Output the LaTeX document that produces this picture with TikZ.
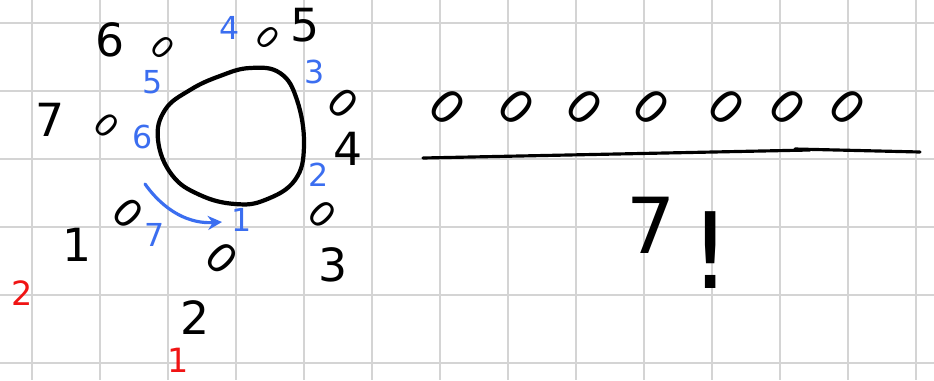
\documentclass[tikz,border=0pt]{standalone}
\usepackage{fontspec}
\setmainfont{DejaVu Sans}
\usetikzlibrary{arrows.meta}
\definecolor{penblue}{RGB}{59,110,240}
\definecolor{penred}{RGB}{240,20,20}
\definecolor{gridgray}{RGB}{212,212,212}
\begin{document}
\begin{tikzpicture}[
    x=0.02cm, y=-0.02cm,
    gridline/.style={draw=gridgray, line width=1.1pt},
    ink/.style={line width=2.2pt, line cap=round, line join=round},
    outer/.style={inner sep=0pt, font=\fontsize{26}{26}\selectfont},
    inner/.style={inner sep=0pt, text=penblue, font=\fontsize{18}{18}\selectfont},
    redno/.style={inner sep=0pt, text=penred, font=\fontsize{19}{19}\selectfont},
    slot/.style={inner sep=0pt, rotate=-45, font=\fontsize{26}{26}\selectfont}
]
  \useasboundingbox[fill=white] (0,0) rectangle (934,380);
  % ===== Raster =====
  \foreach \x in {32,100,...,916} \draw[gridline] (\x,0) -- (\x,380);
  \foreach \y in {23,91,...,363} \draw[gridline] (0,\y) -- (934,\y);

  % ===== Tisch (links) =====
  \draw[ink, line width=2.4pt] plot[smooth cycle, tension=0.7] coordinates {
    (190,90) (220,76) (250,68) (280,73) (297,100) (304,145) (295,180)
    (265,200) (235,204) (200,195) (172,175) (158,140) (165,110)};
  % Plaetze
  \foreach \i/\x/\y/\s in {a/163/48/17, b/268/38/17, c/343/103/22, d/322/214/20,
                           e/222/258/23, f/128/213/22, g/107/125/18}
    \node[inner sep=0pt, rotate=-45, font=\fontsize{\s}{\s}\selectfont] (seat\i) at (\x,\y) {0};
  % aeussere Nummern
  \foreach \n/\x/\y in {1/77/245, 2/195/318, 3/333/265, 4/348/149,
                        5/305/25, 6/110/40, 7/50/120}
    \node[outer] (out\n) at (\x,\y) {\n};
  % innere Nummern
  \foreach \n/\x/\y in {1/242/220, 2/319/175, 3/315/72, 4/230/28,
                        5/153/82, 6/143/137, 7/155/235}
    \node[inner] (in\n) at (\x,\y) {\n};
  \node[redno] (red2) at (22,293) {2};
  \node[redno] (red1) at (178,360) {1};
  % Drehung
  \coordinate (turnA) at (145,184);
  \coordinate (turnB) at (222,222);
  \draw[ink, draw=penblue, line width=1.8pt, -{Stealth[length=8pt, width=8pt]}]
    (turnA) .. controls (165,212) and (190,224) .. (turnB);

  % ===== Anordnung (rechts) =====
  \foreach \i/\x in {1/448, 2/517, 3/585, 4/652, 5/727, 6/788, 7/848}
    \node[slot] (slot\i) at (\x,107) {0};
  \coordinate (lineA) at (423,158);
  \coordinate (lineB) at (810,150);
  \coordinate (lineC) at (795,149);
  \coordinate (lineD) at (920,152);
  \draw[ink, line width=1.8pt] (lineA) -- (lineB);
  \draw[ink, line width=1.8pt] (lineC) -- (lineD);
  \node[inner sep=0pt, anchor=base west, font=\fontsize{44}{44}\selectfont] (fact) at (626,253)
    {7\hspace{8pt}\raisebox{-20pt}{\fontsize{60}{60}\selectfont !}};
\end{tikzpicture}
\end{document}
